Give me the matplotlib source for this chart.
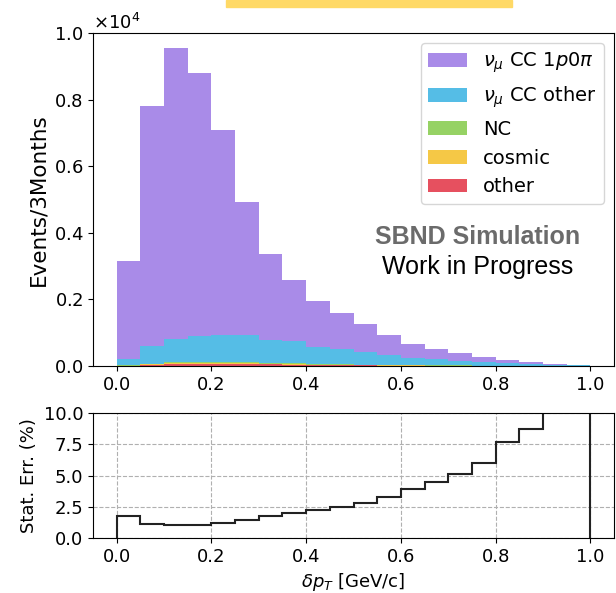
import matplotlib.pyplot as plt
import numpy as np
from matplotlib.patches import Rectangle

# bin edges: 20 bins of 0.05 GeV/c
edges = np.linspace(0.0, 1.0, 21)
centers = 0.5 * (edges[:-1] + edges[1:])

# stacked components (events / 3 months)
other = [10, 40, 60, 65, 65, 55, 50, 40, 30, 25, 20, 15, 12, 10, 8, 6, 5, 4, 3, 2]
cosmic = [5, 20, 30, 35, 35, 30, 25, 20, 15, 12, 10, 8, 6, 5, 4, 3, 2, 2, 1, 1]
nc = [5, 15, 25, 30, 35, 35, 30, 25, 20, 18, 15, 12, 10, 8, 6, 5, 4, 3, 2, 1]
cc_other = [180, 525, 685, 770, 795, 810, 665, 675, 515, 455, 365, 305, 222, 177, 142, 106, 79, 56, 39, 21]
cc_1p0pi = [2950, 7200, 8750, 7900, 6150, 4000, 2580, 1820, 1380, 1080, 850, 590, 420, 310, 230, 160, 85, 70, 30, 15]

# statistical error in %
stat_err = [1.78, 1.11, 1.01, 1.03, 1.19, 1.43, 1.75, 2.02, 2.28, 2.52,
            2.81, 3.29, 3.90, 4.46, 5.09, 6.02, 7.72, 8.70, 12.0, 16.0]

labels = [r'$\nu_\mu$ CC $1p0\pi$', r'$\nu_\mu$ CC other', 'NC', 'cosmic', 'other']
colors = ['#a98be8', '#55bde6', '#96d264', '#f5c846', '#e6505f']

fig = plt.figure(figsize=(6.16, 5.93), dpi=100)
ax1 = fig.add_axes([0.151, 0.3828, 0.8458, 0.5616])
ax2 = fig.add_axes([0.151, 0.0927, 0.8458, 0.2108])

# stack from the bottom: other, cosmic, NC, CC other, CC 1p0pi
stack = [other, cosmic, nc, cc_other, cc_1p0pi]
ax1.hist([centers] * 5, bins=edges, weights=stack, stacked=True,
         histtype='stepfilled', color=colors[::-1], label=labels[::-1])
ax1.legend(fontsize=14, loc='upper right')
ax1.set_ylim(0, 1.0e4)
ax1.set_xlim(-0.05, 1.05)
ax1.ticklabel_format(axis='y', style='sci', scilimits=(0, 0), useMathText=True)
ax1.yaxis.get_offset_text().set_fontsize(13)
ax1.set_ylabel('Events/3Months', fontsize=15.5)
ax1.tick_params(labelsize=13)

ax1.text(0.762, 3870, 'SBND Simulation', ha='center', va='center',
         fontsize=18, fontweight='bold', color='#6b6b6b',
         family='Liberation Sans')
ax1.text(0.762, 2970, 'Work in Progress', ha='center', va='center',
         fontsize=18, color='black', family='Liberation Sans')

ax2.hist(centers, bins=edges, weights=stat_err, histtype='step',
         color='#222222', linewidth=1.5)
ax2.set_ylim(0, 10)
ax2.set_xlim(-0.05, 1.05)
ax2.set_yticks([0, 2.5, 5.0, 7.5, 10.0])
ax2.grid(True, linestyle='--', color='#b0b0b0', linewidth=0.8)
ax2.set_ylabel('Stat. Err. (%)', fontsize=13)
ax2.set_xlabel(r'$\delta p_T$ [GeV/c]', fontsize=13)
ax2.tick_params(labelsize=13)

# yellow highlight strip at the top edge
fig.patches.append(Rectangle((226 / 616, 1 - 7 / 593), 286 / 616, 7 / 593,
                             transform=fig.transFigure, color='#ffd966',
                             zorder=5))

plt.savefig('out.png', dpi=100)
